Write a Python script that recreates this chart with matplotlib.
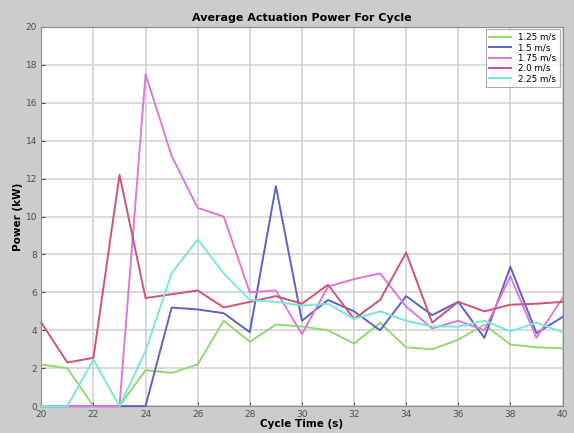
import matplotlib
matplotlib.use('agg')
import matplotlib.pyplot as plt
import numpy as np

cycle_time = list(range(20, 41))

p_125 = [2.2, 2.0, 0, 0, 1.9, 1.75, 2.2, 4.5, 3.4, 4.3, 4.2, 4.0, 3.3, 4.4, 3.1, 3.0, 3.5, 4.3, 3.25, 3.1, 3.05]
p_150 = [0, 0, 0, 0, 0, 5.2, 5.1, 4.9, 3.9, 11.6, 4.5, 5.6, 5.0, 4.0, 5.8, 4.8, 5.5, 3.6, 7.35, 3.85, 4.7]
p_175 = [0, 0, 0, 0, 17.5, 13.2, 10.45, 10.0, 6.0, 6.1, 3.8, 6.3, 6.7, 7.0, 5.25, 4.1, 4.5, 4.0, 6.85, 3.6, 5.7]
p_200 = [4.4, 2.3, 2.55, 12.2, 5.7, 5.9, 6.1, 5.2, 5.5, 5.8, 5.4, 6.4, 4.6, 5.6, 8.1, 4.4, 5.5, 5.0, 5.35, 5.4, 5.5]
p_225 = [0, 0, 2.45, 0, 2.9, 7.0, 8.8, 7.0, 5.6, 5.5, 5.3, 5.4, 4.6, 5.0, 4.5, 4.2, 4.2, 4.5, 3.95, 4.4, 3.9]

labels = ['1.25 m/s', '1.5 m/s', '1.75 m/s', '2.0 m/s', '2.25 m/s']
colors = ['#94d872', '#6060cc', '#dc78dc', '#cc5474', '#7ae6da']

fig = plt.figure(figsize=(5.74, 4.33), dpi=100, facecolor='#cccccc')
ax = fig.add_axes([0.072, 0.062, 0.908, 0.876])
ax.set_facecolor('white')

for y, lab, c in zip([p_125, p_150, p_175, p_200, p_225], labels, colors):
    ax.plot(cycle_time, y, color=c, lw=1.4, label=lab, clip_on=False, zorder=3)

ax.set_xlim(20, 40)
ax.set_ylim(0, 20)
ax.set_xticks(np.arange(20, 41, 2))
ax.set_yticks(np.arange(0, 21, 2))
ax.grid(True, color='#d0d0d0', lw=1.1)
ax.set_axisbelow(True)
ax.tick_params(labelsize=6.5, length=3, direction='in', colors='#505050', pad=3)
for s in ax.spines.values():
    s.set_color('#8c8c8c')

ax.set_title('Average Actuation Power For Cycle', fontsize=8, fontweight='bold', pad=4)
ax.set_xlabel('Cycle Time (s)', fontsize=7.5, fontweight='bold', labelpad=0)
ax.set_ylabel('Power (kW)', fontsize=7.5, fontweight='bold', labelpad=2)

leg = ax.legend(loc='upper right', fontsize=6.3, frameon=True, fancybox=False,
                handlelength=2.5, borderpad=0.4, labelspacing=0.15, borderaxespad=0.3)
leg.get_frame().set_edgecolor('#999999')
leg.get_frame().set_linewidth(0.8)
leg.set_zorder(5)

plt.savefig('out.png', dpi=100, facecolor=fig.get_facecolor())
